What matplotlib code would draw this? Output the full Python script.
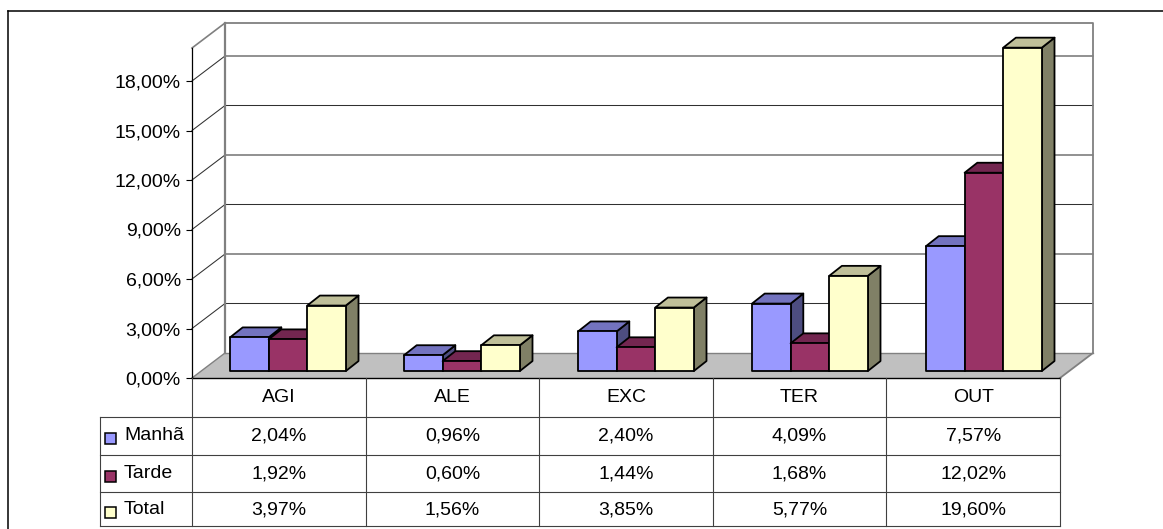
import matplotlib
matplotlib.use('Agg')
import matplotlib.pyplot as plt
from matplotlib.patches import Polygon, Rectangle

plt.rcParams['font.family'] = ['Liberation Sans', 'DejaVu Sans']
plt.rcParams['font.size'] = 14

categories = ['AGI', 'ALE', 'EXC', 'TER', 'OUT']
series_names = ['Manhã', 'Tarde', 'Total']
manha = [2.04, 0.96, 2.40, 4.09, 7.57]
tarde = [1.92, 0.60, 1.44, 1.68, 12.02]
total = [3.97, 1.56, 3.85, 5.77, 19.60]
y_ticks = [0, 3, 6, 9, 12, 15, 18]

# front, top, side colours of each series
colors = [('#9999FF', '#7373BF', '#4D4D80'),
          ('#993366', '#732650', '#4D1A33'),
          ('#FFFFCC', '#BFBF99', '#808066')]

W, H = 1163, 529
fig = plt.figure(figsize=(W / 100, H / 100), dpi=100)

# outer border: only left and top are inside the picture
frame = fig.add_axes([8 / W, 0, 1 - 8 / W, 1 - 10.5 / H])
frame.set_xticks([])
frame.set_yticks([])
frame.spines['right'].set_visible(False)
frame.spines['bottom'].set_visible(False)
frame.spines['left'].set_linewidth(1.1)
frame.spines['top'].set_linewidth(1.1)

ax = fig.add_axes([192 / W, (H - 378) / H, 868 / W, 330 / H])
ax.set_xlim(0, 5)
ax.set_ylim(0, 20)
ax.patch.set_alpha(0)
ax.set_xticks([])
ax.set_yticks(y_ticks)
ax.set_yticklabels([f'{t:.2f}'.replace('.', ',') + '%' for t in y_ticks])
ax.tick_params(axis='y', length=4, width=0.8, pad=4)
ax.spines['top'].set_visible(False)
ax.spines['right'].set_visible(False)
ax.spines['left'].set_linewidth(0.9)
ax.spines['bottom'].set_linewidth(1.0)
ax.spines['left'].set_zorder(1)

# depth of the 3d box, in data units
wall_dx = 33 / 173.6
wall_dy = 25 / 16.5

wall_col = '#808080'
floor = Polygon([(0, 0), (wall_dx, wall_dy), (5 + wall_dx, wall_dy), (5, 0)],
                facecolor='#C0C0C0', edgecolor='none', clip_on=False, zorder=0.5)
ax.add_patch(floor)

for t in y_ticks[1:]:
    ax.plot([0, wall_dx, 5 + wall_dx], [t, t + wall_dy, t + wall_dy],
            color='#303030', lw=0.75, clip_on=False, zorder=0.6)
ax.plot([0, wall_dx], [20, 20 + wall_dy], color=wall_col, lw=1.2, clip_on=False, zorder=0.7)
ax.plot([wall_dx, wall_dx], [20 + wall_dy, wall_dy], color=wall_col, lw=1.6, clip_on=False, zorder=0.7)
ax.plot([wall_dx, 5 + wall_dx, 5 + wall_dx, 5], [20 + wall_dy, 20 + wall_dy, wall_dy, 0],
        color=wall_col, lw=1.3, clip_on=False, zorder=0.7)
ax.plot([wall_dx, 0], [wall_dy, 0], color=wall_col, lw=1.0, clip_on=False, zorder=0.7)
ax.plot([wall_dx, 5 + wall_dx], [wall_dy, wall_dy], color=wall_col, lw=1.0, clip_on=False, zorder=0.7)

# bars
bar_w = 38.6 / 173.6
bar_start = 38 / 173.6
bar_step = 174 / 173.6
base = 0.42
dx = 12.7 / 173.6
dy = 10 / 16.5


def bar3d(x, val, cols, z):
    x2 = x + bar_w
    top = base + val
    front = [(x, base), (x2, base), (x2, top), (x, top)]
    top_face = [(x, top), (x + dx, top + dy), (x2 + dx, top + dy), (x2, top)]
    side = [(x2, base), (x2 + dx, base + dy), (x2 + dx, top + dy), (x2, top)]
    for pts, c in [(side, cols[2]), (top_face, cols[1]), (front, cols[0])]:
        ax.add_patch(Polygon(pts, closed=True, facecolor=c, edgecolor='black', lw=1.3,
                             joinstyle='round', clip_on=False, zorder=z))


all_series = [manha, tarde, total]
for i in range(len(categories)):
    for j, s in enumerate(all_series):
        bar3d(i * bar_step + bar_start + j * bar_w, s[i], colors[j], 2 + j * 0.1)

# data table below the plot
row_px = [378, 416.5, 455, 492, 526]
tab = fig.add_axes([100 / W, (H - 526) / H, 960 / W, 148 / H])
tab.set_xlim(-92 / 173.6, 5)
tab.set_ylim(526, 378)
tab.axis('off')

line_col = '#404040'
for k, y in enumerate(row_px[1:]):
    tab.plot([-92 / 173.6, 5], [y, y], color=line_col, lw=0.8, clip_on=False)
for i in range(6):
    tab.plot([i, i], [378, 526], color=line_col, lw=0.8, clip_on=False)
tab.plot([-92 / 173.6, -92 / 173.6], [416.5, 526], color=line_col, lw=0.8, clip_on=False)

for i, c in enumerate(categories):
    tab.text(i + 0.5, 397, c, ha='center', va='center')
text_y = [436, 474, 510]
for r, s in enumerate(all_series):
    yc = text_y[r]
    key_x = -92 / 173.6 + 5.5 / 173.6
    tab.add_patch(Rectangle((key_x, yc - 3), 11 / 173.6, 11, facecolor=colors[r][0],
                            edgecolor='black', lw=1.1, clip_on=False))
    tab.text(-92 / 173.6 + 24 / 173.6, yc, series_names[r], ha='left', va='center')
    for i, v in enumerate(s):
        tab.text(i + 0.5, yc, f'{v:.2f}'.replace('.', ',') + '%', ha='center', va='center')

fig.savefig('out.png', dpi=100)
